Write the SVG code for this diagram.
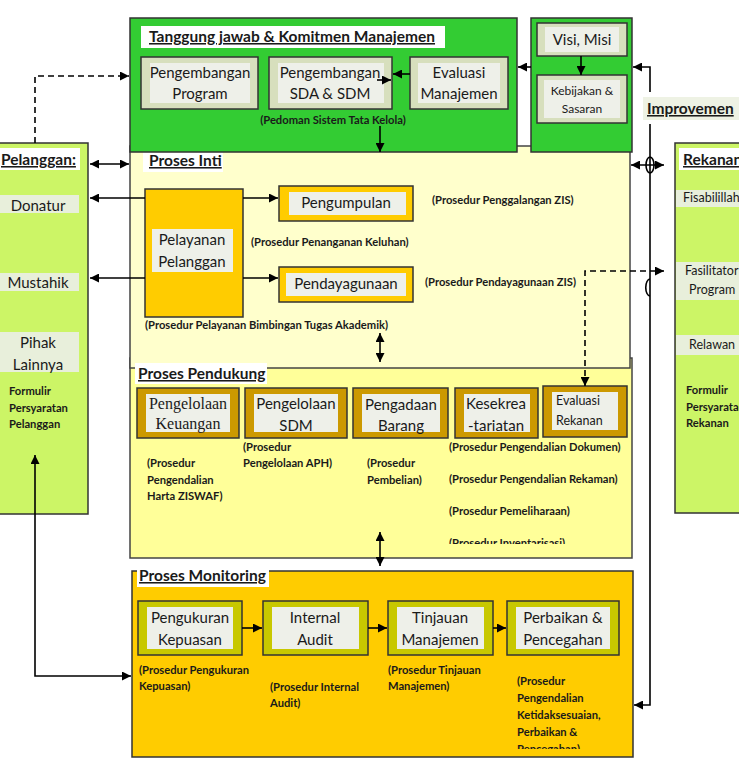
<svg xmlns="http://www.w3.org/2000/svg" width="739" height="759" viewBox="0 0 739 759">
<style>
text{font-family:Lato,"Open Sans","Liberation Sans",sans-serif;fill:#1a1a1a}
.t{font-size:15px}
.h{font-size:15.5px;font-weight:bold;text-decoration:underline}
.p{font-size:11.2px;font-weight:bold}
.s{font-family:"Liberation Serif",serif;font-size:16px}
.c{text-anchor:middle}
.ln{fill:none;stroke:#000;stroke-width:1.6}
.dash{stroke-dasharray:6,4}
.gb{fill:#d7dfbd;stroke:#333;stroke-width:1.5}
.inner{fill:#eef0e9}
.lab{fill:#e8efdb}
.wb{fill:#fff}
.ob{fill:#ffcc00;stroke:#333;stroke-width:1.5}
.db{fill:#cc9900;stroke:#333;stroke-width:1.5}
.yb{fill:#c8c800;stroke:#333;stroke-width:1.5}
</style>
<defs>
<marker id="ah" viewBox="0 0 10 10" refX="10" refY="5" markerWidth="9" markerHeight="9" markerUnits="userSpaceOnUse" orient="auto-start-reverse"><path d="M0,0 L10,5 L0,10 z" fill="#000"/></marker>
<clipPath id="cl1"><rect x="440" y="530" width="200" height="14"/></clipPath>
<clipPath id="cl2"><rect x="510" y="738" width="120" height="11"/></clipPath>
</defs>

<g id="pendukung">
<rect x="130" y="358" width="502" height="200" fill="#ffff99" stroke="#444" stroke-width="1.5"/>
</g>
<g id="proses-inti">
<rect x="130" y="146" width="500" height="222" fill="#ffffcc" stroke="#444" stroke-width="1.5"/>
<rect x="143" y="150" width="80" height="22" class="wb"/>
<text x="149" y="166" class="h">Proses Inti</text>
</g>
<g id="pendukung-label">
<rect x="135" y="363" width="132" height="21" class="wb"/>
<text x="138" y="379" class="h">Proses Pendukung</text>
</g>

<g id="tanggung-jawab">
<rect x="130" y="18" width="387" height="134" fill="#33cc33" stroke="#333" stroke-width="1.5"/>
<rect x="141" y="26" width="304" height="22" class="wb"/>
<text x="149" y="42" class="h">Tanggung jawab &amp; Komitmen Manajemen</text>
<text x="333" y="124" class="p c">(Pedoman Sistem Tata Kelola)</text>
</g>
<g id="peng-program">
<rect x="141" y="57" width="117" height="52" class="gb"/>
<rect x="150" y="63" width="100" height="40" class="inner"/>
<text x="200" y="78" class="t c">Pengembangan</text>
<text x="200" y="99" class="t c">Program</text>
</g>
<g id="peng-sda">
<rect x="269" y="57" width="123" height="52" class="gb"/>
<rect x="278" y="63" width="106" height="40" class="inner"/>
<text x="330" y="78" class="t c">Pengembangan</text>
<text x="330" y="99" class="t c">SDA &amp; SDM</text>
</g>
<g id="evaluasi-manajemen">
<rect x="410" y="57" width="98" height="52" class="gb"/>
<rect x="418" y="63" width="82" height="40" class="inner"/>
<text x="459" y="78" class="t c">Evaluasi</text>
<text x="459" y="99" class="t c">Manajemen</text>
</g>

<g id="visi-panel">
<rect x="531" y="18" width="101" height="134" fill="#33cc33" stroke="#333" stroke-width="1.5"/>
</g>
<g id="visi-misi">
<rect x="537" y="23" width="90" height="33" class="gb"/>
<rect x="545" y="27" width="74" height="25" class="inner"/>
<text x="582" y="45" class="t c">Visi, Misi</text>
</g>
<g id="kebijakan">
<rect x="537" y="75" width="90" height="48" class="gb"/>
<rect x="544" y="80" width="76" height="38" class="inner"/>
<text x="582" y="95" class="c" font-size="12">Kebijakan &amp;</text>
<text x="582" y="113" class="c" font-size="12">Sasaran</text>
</g>

<g id="improvemen">
<rect x="643" y="97" width="96" height="23" fill="#eef2e4"/>
<text x="647" y="114" class="h">Improvemen</text>
</g>

<g id="pelanggan">
<rect x="-2" y="143" width="90" height="371" fill="#ccf566" stroke="#333" stroke-width="1.5"/>
<rect x="0" y="148" width="80" height="22" class="wb"/>
<text x="1" y="165" class="h">Pelanggan:</text>
<rect x="0" y="195" width="79" height="18" class="lab"/>
<text x="38" y="211" class="t c">Donatur</text>
<rect x="0" y="273" width="79" height="18" class="lab"/>
<text x="38" y="288" class="t c">Mustahik</text>
<rect x="0" y="332" width="79" height="40" class="lab"/>
<text x="38" y="348" class="t c">Pihak</text>
<text x="38" y="370" class="t c">Lainnya</text>
<text x="9" y="395" class="p">Formulir</text>
<text x="9" y="412" class="p">Persyaratan</text>
<text x="9" y="428" class="p">Pelanggan</text>
</g>

<g id="rekanan">
<rect x="675" y="143" width="70" height="370" fill="#ccf566" stroke="#333" stroke-width="1.5"/>
<rect x="679" y="148" width="60" height="22" class="wb"/>
<text x="683" y="165" class="h">Rekanan</text>
<rect x="676" y="190" width="63" height="17" class="lab"/>
<text x="683" y="202" font-size="12.5">Fisabilillah</text>
<rect x="676" y="262" width="63" height="38" class="lab"/>
<text x="685" y="275" font-size="12.5">Fasilitator</text>
<text x="689" y="294" font-size="12.5">Program</text>
<rect x="676" y="335" width="63" height="20" class="lab"/>
<text x="689" y="349" font-size="12.5">Relawan</text>
<text x="686" y="394" class="p">Formulir</text>
<text x="686" y="411" class="p">Persyaratan</text>
<text x="686" y="427" class="p">Rekanan</text>
</g>

<g id="pelayanan-pelanggan">
<rect x="145" y="189" width="98" height="128" class="ob"/>
<rect x="152" y="229" width="81" height="43" class="inner"/>
<text x="192" y="245" class="t c">Pelayanan</text>
<text x="192" y="267" class="t c">Pelanggan</text>
</g>
<g id="pengumpulan">
<rect x="279" y="186" width="134" height="35" class="ob"/>
<rect x="289" y="192" width="117" height="23" class="inner"/>
<text x="346" y="208" class="t c">Pengumpulan</text>
</g>
<g id="pendayagunaan">
<rect x="279" y="267" width="134" height="35" class="ob"/>
<rect x="286" y="273" width="120" height="23" class="inner"/>
<text x="346" y="289" class="t c">Pendayagunaan</text>
</g>
<g id="inti-prosedur">
<text x="432" y="204" class="p">(Prosedur Penggalangan ZIS)</text>
<text x="251" y="246" class="p">(Prosedur Penanganan Keluhan)</text>
<text x="425" y="286" class="p">(Prosedur Pendayagunaan ZIS)</text>
<text x="145" y="329" class="p">(Prosedur Pelayanan Bimbingan Tugas Akademik)</text>
</g>

<g id="keuangan">
<rect x="137" y="388" width="102" height="50" class="db"/>
<rect x="146" y="394" width="84" height="38" class="inner"/>
<text x="188" y="409" class="s c">Pengelolaan</text>
<text x="188" y="429" class="s c">Keuangan</text>
</g>
<g id="sdm">
<rect x="245" y="388" width="102" height="50" class="db"/>
<rect x="254" y="394" width="84" height="38" class="inner"/>
<text x="296" y="409" class="t c">Pengelolaan</text>
<text x="296" y="431" class="t c">SDM</text>
</g>
<g id="pengadaan">
<rect x="353" y="388" width="95" height="50" class="db"/>
<rect x="362" y="394" width="78" height="38" class="inner"/>
<text x="401" y="410" class="t c">Pengadaan</text>
<text x="401" y="431" class="t c">Barang</text>
</g>
<g id="kesekretariatan">
<rect x="455" y="388" width="83" height="50" class="db"/>
<rect x="464" y="394" width="66" height="38" class="inner"/>
<text x="496" y="409" class="t c">Kesekrea</text>
<text x="496" y="431" class="t c">-tariatan</text>
</g>
<g id="evaluasi-rekanan">
<rect x="543" y="386" width="84" height="51" class="db"/>
<rect x="552" y="392" width="66" height="38" class="inner"/>
<text x="556" y="405" font-size="12.5">Evaluasi</text>
<text x="556" y="425" font-size="12.5">Rekanan</text>
</g>
<g id="pendukung-prosedur">
<text x="147" y="467" class="p">(Prosedur</text>
<text x="147" y="484" class="p">Pengendalian</text>
<text x="147" y="500" class="p">Harta ZISWAF)</text>
<text x="243" y="451" class="p">(Prosedur</text>
<text x="243" y="467" class="p">Pengelolaan APH)</text>
<text x="367" y="467" class="p">(Prosedur</text>
<text x="367" y="484" class="p">Pembelian)</text>
<text x="449" y="451" class="p">(Prosedur Pengendalian Dokumen)</text>
<text x="449" y="483" class="p">(Prosedur Pengendalian Rekaman)</text>
<text x="449" y="515" class="p">(Prosedur Pemeliharaan)</text>
<text x="449" y="547" class="p" clip-path="url(#cl1)">(Prosedur Inventarisasi)</text>
</g>

<g id="monitoring">
<rect x="132" y="571" width="501" height="186" fill="#ffcc00" stroke="#333" stroke-width="1.5"/>
<rect x="137" y="565" width="132" height="22" class="wb"/>
<text x="139" y="581" class="h">Proses Monitoring</text>
</g>
<g id="pengukuran">
<rect x="138" y="601" width="104" height="54" class="yb"/>
<rect x="147" y="607" width="86" height="42" class="inner"/>
<text x="190" y="623" class="t c">Pengukuran</text>
<text x="190" y="645" class="t c">Kepuasan</text>
</g>
<g id="internal-audit">
<rect x="263" y="601" width="105" height="54" class="yb"/>
<rect x="272" y="607" width="87" height="42" class="inner"/>
<text x="315" y="623" class="t c">Internal</text>
<text x="315" y="645" class="t c">Audit</text>
</g>
<g id="tinjauan">
<rect x="388" y="601" width="105" height="54" class="yb"/>
<rect x="397" y="607" width="87" height="42" class="inner"/>
<text x="440" y="623" class="t c">Tinjauan</text>
<text x="440" y="645" class="t c">Manajemen</text>
</g>
<g id="perbaikan">
<rect x="507" y="601" width="112" height="54" class="yb"/>
<rect x="516" y="607" width="94" height="42" class="inner"/>
<text x="563" y="623" class="t c">Perbaikan &amp;</text>
<text x="563" y="645" class="t c">Pencegahan</text>
</g>
<g id="monitoring-prosedur">
<text x="139" y="674" class="p">(Prosedur Pengukuran</text>
<text x="139" y="690" class="p">Kepuasan)</text>
<text x="270" y="691" class="p">(Prosedur Internal</text>
<text x="270" y="707" class="p">Audit)</text>
<text x="388" y="674" class="p">(Prosedur Tinjauan</text>
<text x="388" y="690" class="p">Manajemen)</text>
<text x="517" y="685" class="p">(Prosedur</text>
<text x="517" y="702" class="p">Pengendalian</text>
<text x="517" y="719" class="p">Ketidaksesuaian,</text>
<text x="517" y="736" class="p">Perbaikan &amp;</text>
<text x="517" y="753" class="p" clip-path="url(#cl2)">Pencegahan)</text>
</g>

<g id="connectors">
<path class="ln dash" d="M35,143 V76 H129" marker-end="url(#ah)"/>
<path class="ln" d="M90,164 H129" marker-start="url(#ah)" marker-end="url(#ah)"/>
<path class="ln" d="M145,198 H90" marker-end="url(#ah)"/>
<path class="ln" d="M145,278 H90" marker-end="url(#ah)"/>
<path class="ln" d="M243,198 H278" marker-end="url(#ah)"/>
<path class="ln" d="M243,278 H278" marker-end="url(#ah)"/>
<path class="ln" d="M410,74 H393" marker-end="url(#ah)"/>
<path class="ln" d="M377,80 H391" marker-end="url(#ah)"/>
<path class="ln" d="M380,126 V152" marker-end="url(#ah)"/>
<path class="ln" d="M581,56 V75" marker-end="url(#ah)"/>
<path class="ln" d="M531,67 H518" marker-end="url(#ah)"/>
<path class="ln" d="M650,92 V67 H633" marker-end="url(#ah)"/>
<path class="ln" d="M650,124 V705 H634" marker-end="url(#ah)"/>
<path class="ln" d="M631,165 H664" marker-start="url(#ah)" marker-end="url(#ah)"/>
<ellipse cx="650" cy="165" rx="4" ry="8" class="ln"/>
<path class="ln dash" d="M585,386 V271 H664" marker-start="url(#ah)" marker-end="url(#ah)"/>
<path class="ln" d="M650,279 A4,8 0 0 0 650,296"/>
<path class="ln" d="M380,333 V362" marker-start="url(#ah)" marker-end="url(#ah)"/>
<path class="ln" d="M380,532 V566" marker-start="url(#ah)" marker-end="url(#ah)"/>
<path class="ln" d="M242,628 H262" marker-end="url(#ah)"/>
<path class="ln" d="M368,628 H387" marker-end="url(#ah)"/>
<path class="ln" d="M493,628 H506" marker-end="url(#ah)"/>
<path class="ln" d="M35,455 V676 H131" marker-start="url(#ah)" marker-end="url(#ah)"/>
</g>
</svg>
